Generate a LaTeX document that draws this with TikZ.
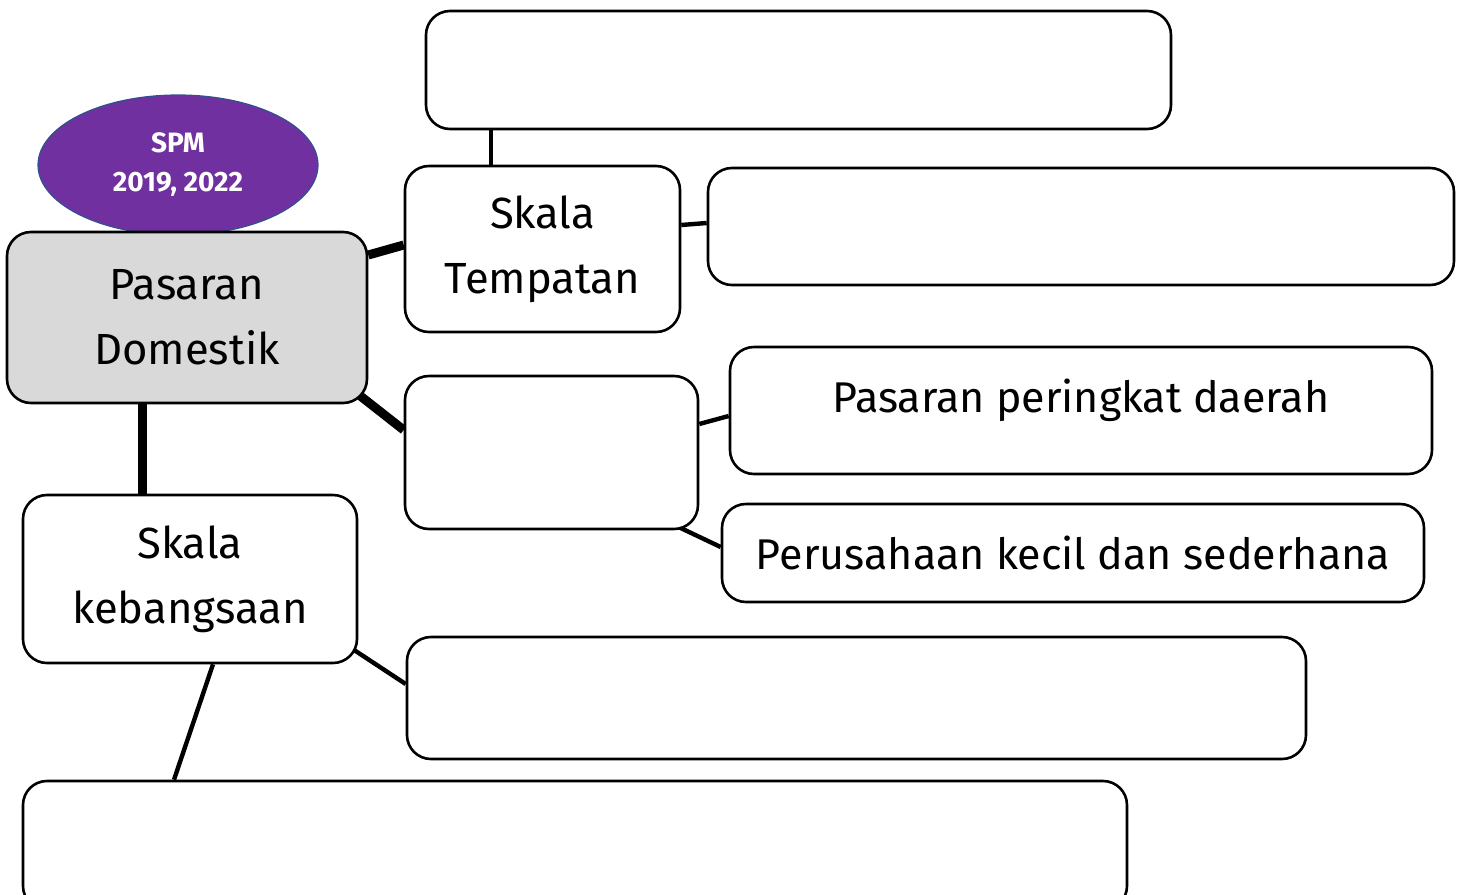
\documentclass[tikz,border=0pt]{standalone}
\usepackage{fontspec}
\setmainfont{Fira Sans}
\usetikzlibrary{backgrounds,shapes.geometric,calc}
\definecolor{spmpurple}{HTML}{7030A0}
\definecolor{spmborder}{HTML}{2F528F}
\definecolor{domgray}{HTML}{D9D9D9}
\begin{document}
\begin{tikzpicture}[x=0.5pt,y=-0.5pt,
  box/.style={draw, line width=1.3pt, rounded corners=12pt, fill=white, inner sep=0pt, align=center},
  bigtext/.style={font=\fontsize{21.8}{32.5}\selectfont},
  midtext/.style={font=\fontsize{21.5}{30}\selectfont},
  heavylink/.style={line width=4.5pt},
  lightlink/.style={line width=2.2pt}
]
\useasboundingbox (0,0) rectangle (1464,895);
% ellipse
\node[ellipse, draw=spmborder, line width=0.6pt, fill=spmpurple, minimum width=140pt, minimum height=70pt,
  text=white, align=center, font=\bfseries\fontsize{14}{19.5}\selectfont] (spm) at (178,165) {SPM\\2019, 2022};
% boxes
\node[box, minimum width=372.5pt, minimum height=59pt] (top) at (798.5,70) {};
\node[box, bigtext, minimum width=137.5pt, minimum height=83pt] (temp) at (542.5,249) {Skala\\Tempatan};
\node[box, minimum width=373pt, minimum height=58.5pt] (rone) at (1081,226.5) {};
\node[box, bigtext, fill=domgray, minimum width=180pt, minimum height=85.5pt] (dom) at (187,317.5) {Pasaran\\Domestik};
\node[box, minimum width=146.5pt, minimum height=76.5pt] (mid) at (551.5,452.5) {};
\node[box, minimum width=351pt, minimum height=63.5pt,
  label={[midtext, yshift=5pt]center:Pasaran peringkat daerah}] (daerah) at (1081,410.5) {};
\node[box, midtext, minimum width=351pt, minimum height=49pt] (perus) at (1073,553) {Perusahaan kecil dan sederhana};
\node[box, bigtext, minimum width=167pt, minimum height=84pt] (keb) at (190,579) {Skala\\kebangsaan};
\node[box, minimum width=449.5pt, minimum height=61pt] (rtwo) at (856.5,698) {};
\node[box, minimum width=552pt, minimum height=64.5pt] (bot) at (575,845.5) {};
% connectors
\begin{scope}[on background layer]
\draw[lightlink] (top.south -| 491,0) -- (temp.north -| 491,0);
\draw[heavylink] (dom.east |- 0,255) -- (temp.west |- 0,245);
\draw[lightlink] (temp.east |- 0,225) -- (rone.west |- 0,223);
\draw[heavylink] ($(dom.south east)+(-33,-28)$) -- (mid.west |- 0,430);
\draw[lightlink] (mid.east |- 0,424) -- (daerah.west |- 0,416);
\draw[lightlink] ($(mid.south east)+(-36,-10.5)$) -- (perus.west |- 0,547);
\draw[heavylink] (dom.south -| 142,0) -- (keb.north -| 142,0);
\draw[lightlink] ($(keb.south east)+(-22,-26)$) -- (rtwo.west |- 0,684);
\draw[lightlink] (keb.south -| 213,0) -- (bot.north -| 174,0);
\end{scope}
\end{tikzpicture}
\end{document}
